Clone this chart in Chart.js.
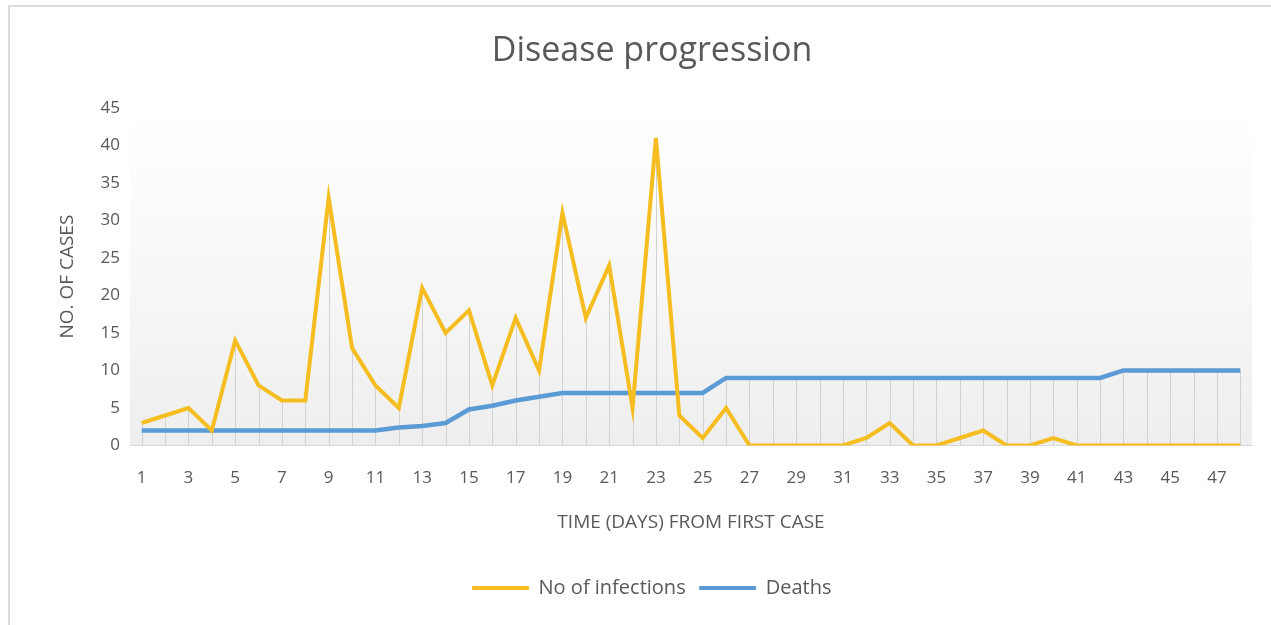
<!DOCTYPE html>
<html>
<head>
<meta charset="utf-8">
<script src="https://cdn.jsdelivr.net/npm/chart.js@4"></script>
<style>
  html, body { margin: 0; padding: 0; background: #fff; }
  #wrap { position: relative; width: 1271px; height: 625px; }
</style>
</head>
<body>
<div id="wrap"><canvas id="chart" width="1271" height="625"></canvas></div>
<script>
const days = ['1','2','3','4','5','6','7','8','9','10','11','12','13','14','15','16',
  '17','18','19','20','21','22','23','24','25','26','27','28','29','30','31','32',
  '33','34','35','36','37','38','39','40','41','42','43','44','45','46','47','48']
const infections = [3,4,5,2,14,8,6,6,33,13,8,5,21,15,18,8,17,10,31,17,24,5,41,4,1,
  5,0,0,0,0,0,1,3,0,0,1,2,0,0,1,0,0,0,0,0,0,0,0]
const deaths = [2,2,2,2,2,2,2,2,2,2,2,2.4,2.6,3,4.8,5.3,6,6.5,7,7,7,7,7,7,7,
  9,9,9,9,9,9,9,9,9,9,9,9,9,9,9,9,9,10,10,10,10,10,10]
const yTicks = [0,5,10,15,20,25,30,35,40,45]

const textColor = '#595959'
Chart.defaults.font.family = "'Open Sans', sans-serif"
Chart.defaults.color = textColor

// frame + gradient plot background
const backdrop = {
  id: 'backdrop',
  beforeDraw(chart) {
    const {ctx, chartArea: a} = chart
    ctx.save()
    ctx.strokeStyle = '#dcdcdc'
    ctx.lineWidth = 2
    ctx.strokeRect(9, 6, 1400, 800)
    const g = ctx.createLinearGradient(0, a.top, 0, a.bottom)
    g.addColorStop(0, '#ffffff')
    g.addColorStop(0.17, '#fdfdfd')
    g.addColorStop(1, '#eeeeee')
    ctx.fillStyle = g
    ctx.fillRect(a.left, a.top, a.right - a.left, a.bottom - a.top)
    ctx.restore()
  }
}

// drop lines from the highest point of each day to the axis
const dropLines = {
  id: 'dropLines',
  beforeDatasetsDraw(chart) {
    const {ctx, scales: {x, y}} = chart
    ctx.save()
    ctx.strokeStyle = '#d2d2d2'
    ctx.lineWidth = 1
    days.forEach((d, i) => {
      const top = Math.max(infections[i], deaths[i])
      const px = Math.round(x.getPixelForValue(i)) + 0.5
      ctx.beginPath()
      ctx.moveTo(px, y.getPixelForValue(top))
      ctx.lineTo(px, y.getPixelForValue(0))
      ctx.stroke()
    })
    ctx.restore()
  }
}

new Chart(document.getElementById('chart'), {
  type: 'line',
  data: {
    labels: days,
    datasets: [{
      label: 'No of infections',
      data: infections,
      borderColor: '#F5BD1F',
      backgroundColor: '#F5BD1F',
      borderWidth: 4,
      pointRadius: 0,
      tension: 0
    }, {
      label: 'Deaths',
      data: deaths,
      borderColor: '#5B9BD5',
      backgroundColor: '#5B9BD5',
      borderWidth: 4.5,
      pointRadius: 0,
      tension: 0
    }]
  },
  options: {
    responsive: false,
    animation: false,
    layout: { padding: { left: 52, right: 19, top: 0, bottom: 17 } },
    plugins: {
      title: {
        display: true,
        text: 'Disease progression',
        color: textColor,
        font: { size: 34, weight: 'normal' },
        padding: { top: 31, bottom: 36 }
      },
      legend: {
        position: 'bottom',
        labels: {
          boxWidth: 56,
          boxHeight: 3,
          padding: 14,
          color: textColor,
          font: { size: 20 },
          generateLabels(chart) {
            return chart.data.datasets.map((ds, i) => ({
              text: ds.label,
              fillStyle: ds.borderColor,
              strokeStyle: ds.borderColor,
              lineWidth: 1,
              fontColor: textColor,
              datasetIndex: i
            }))
          }
        }
      },
      tooltip: { enabled: false }
    },
    scales: {
      x: {
        offset: true,
        grid: { display: false, drawTicks: false },
        border: { display: true, color: '#d9d9d9', width: 1 },
        ticks: {
          autoSkip: false,
          maxRotation: 0,
          padding: 22,
          font: { size: 17 },
          callback: (v, i) => (i % 2 === 0 ? days[i] : '')
        },
        title: {
          display: true,
          text: 'TIME (DAYS) FROM FIRST CASE',
          font: { size: 19 },
          padding: { top: 4, bottom: 30 }
        },
        afterFit: s => { s.height = 118.5 }
      },
      y: {
        min: 0,
        max: 45,
        grid: { display: false, drawTicks: false },
        border: { display: false },
        afterBuildTicks: s => { s.ticks = yTicks.map(v => ({ value: v })) },
        ticks: { padding: 10, font: { size: 17 } },
        title: {
          display: true,
          text: 'NO. OF CASES',
          font: { size: 19 },
          padding: { top: 4, bottom: 4 }
        },
        afterFit: s => { s.width = 78 }
      }
    }
  },
  plugins: [backdrop, dropLines]
})
</script>
</body>
</html>
